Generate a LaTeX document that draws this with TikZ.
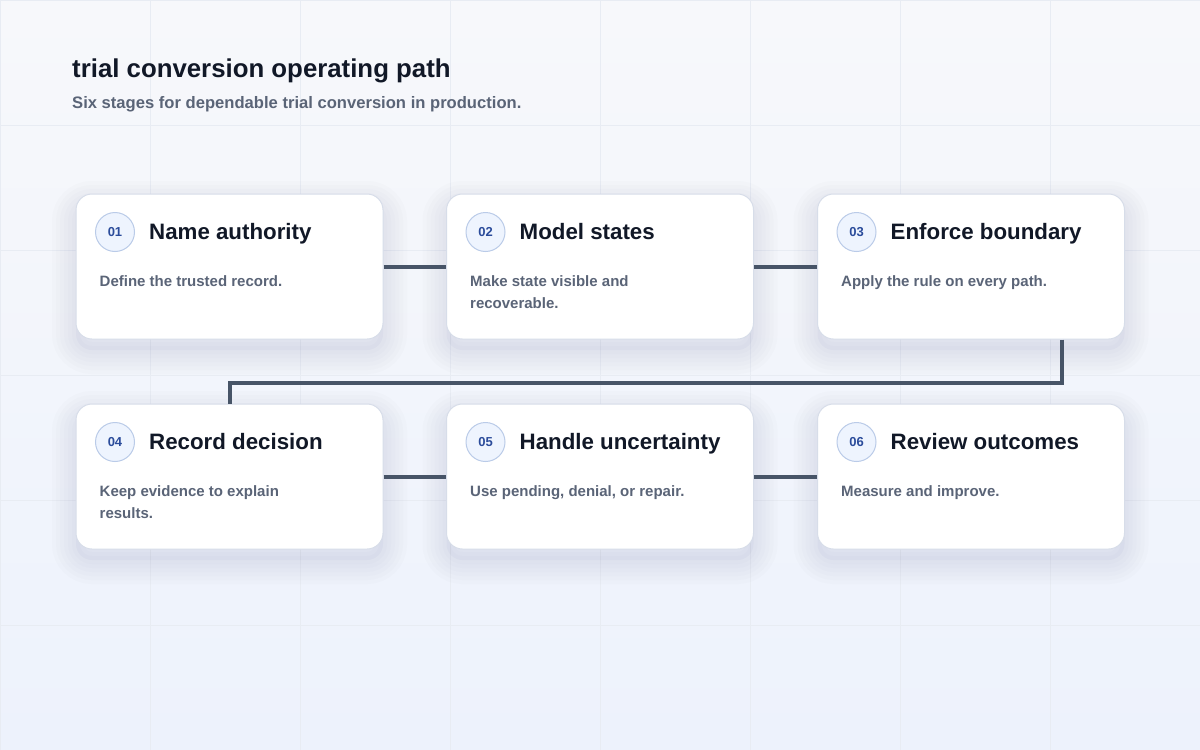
\documentclass[tikz,border=0pt]{standalone}
\usepackage{fontspec}
\setmainfont{Liberation Sans}
\usetikzlibrary{positioning,calc}

\definecolor{bgtop}{HTML}{F7F8FB}
\definecolor{bgbot}{HTML}{EDF2FC}
\definecolor{gridc}{HTML}{E8ECF3}
\definecolor{ink}{HTML}{111827}
\definecolor{muted}{HTML}{5A6477}
\definecolor{cardline}{HTML}{D7DDE9}
\definecolor{shadowc}{HTML}{4A5578}
\definecolor{badgefill}{HTML}{EEF4FE}
\definecolor{badgeline}{HTML}{BACBE8}
\definecolor{badgetext}{HTML}{2B4C9B}
\definecolor{linkc}{HTML}{475467}

\tikzset{
	halo/.style={draw=shadowc, line width=#1, opacity=0.016, transform canvas={yshift=-11pt}},
	card/.style={draw=cardline, fill=white, line width=1pt, rounded corners=16pt,
		minimum width=307pt, minimum height=145pt,
		preaction={fill=shadowc, opacity=0.035, transform canvas={yshift=-11pt}},
		preaction={halo=8pt}, preaction={halo=16pt}, preaction={halo=24pt},
		preaction={halo=32pt}, preaction={halo=40pt}, preaction={halo=48pt}},
	badge/.style={circle, draw=badgeline, fill=badgefill, line width=1pt,
		minimum size=39pt, inner sep=0pt, text=badgetext,
		font=\fontsize{13}{13}\selectfont\bfseries},
	stagetitle/.style={anchor=base west, inner sep=0pt, text=ink,
		font=\fontsize{22.3}{26}\selectfont\bfseries},
	stagedesc/.style={anchor=north west, inner sep=0pt, align=left, text=muted,
		font=\fontsize{15}{22}\selectfont\bfseries},
	link/.style={draw=linkc, line width=4pt},
}

\begin{document}
\begin{tikzpicture}[x=1pt, y=-1pt]
	\useasboundingbox (0,0) rectangle (1200,750);
	% Background
	\shade [top color=bgtop, bottom color=bgbot] (0,0) rectangle (1200,750);
	\draw [gridc, line width=0.8pt, xstep=150pt, ystep=125pt] (0,0) grid (1200,750);

	% Heading
	\node [anchor=base west, inner sep=0pt, text=ink, font=\fontsize{25.8}{30}\selectfont\bfseries] (title) at (72,77) {trial conversion operating path};
	\node [anchor=base west, inner sep=0pt, text=muted, font=\fontsize{16.6}{20}\selectfont\bfseries] (subtitle) at (72,108.5) {Six stages for dependable trial conversion in production.};

	% Stage cards
	\node [card] (c1) at (229.5,266.5) {};
	\node [card] (c2) at (600,266.5) {};
	\node [card] (c3) at (971,266.5) {};
	\node [card] (c4) at (229.5,476.5) {};
	\node [card] (c5) at (600,476.5) {};
	\node [card] (c6) at (971,476.5) {};

	% Badges
	\node [badge] (b1) at ($(c1.north west)+(39.5,38.5)$) {01};
	\node [badge] (b2) at ($(c2.north west)+(39.5,38.5)$) {02};
	\node [badge] (b3) at ($(c3.north west)+(39.5,38.5)$) {03};
	\node [badge] (b4) at ($(c4.north west)+(39.5,38.5)$) {04};
	\node [badge] (b5) at ($(c5.north west)+(39.5,38.5)$) {05};
	\node [badge] (b6) at ($(c6.north west)+(39.5,38.5)$) {06};

	% Stage names
	\node [stagetitle] (t1) at ($(b1.center)+(34,7.5)$) {Name authority};
	\node [stagetitle] (t2) at ($(b2.center)+(34,7.5)$) {Model states};
	\node [stagetitle] (t3) at ($(b3.center)+(34,7.5)$) {Enforce boundary};
	\node [stagetitle] (t4) at ($(b4.center)+(34,7.5)$) {Record decision};
	\node [stagetitle] (t5) at ($(b5.center)+(34,7.5)$) {Handle uncertainty};
	\node [stagetitle] (t6) at ($(b6.center)+(34,7.5)$) {Review outcomes};

	% Descriptions
	\node [stagedesc] (d1) at ($(c1.north west)+(24,81.5)$) {Define the trusted record.};
	\node [stagedesc] (d2) at ($(c2.north west)+(24,81.5)$) {Make state visible and\\recoverable.};
	\node [stagedesc] (d3) at ($(c3.north west)+(24,81.5)$) {Apply the rule on every path.};
	\node [stagedesc] (d4) at ($(c4.north west)+(24,81.5)$) {Keep evidence to explain\\results.};
	\node [stagedesc] (d5) at ($(c5.north west)+(24,81.5)$) {Use pending, denial, or repair.};
	\node [stagedesc] (d6) at ($(c6.north west)+(24,81.5)$) {Measure and improve.};

	% Connectors
	\coordinate (turn) at (1062,383);
	\draw [link] (c1.east) -- (c2.west);
	\draw [link] (c2.east) -- (c3.west);
	\draw [link] (c3.south -| turn) -- (turn) -| (c4.north);
	\draw [link] (c4.east) -- (c5.west);
	\draw [link] (c5.east) -- (c6.west);
\end{tikzpicture}
\end{document}
